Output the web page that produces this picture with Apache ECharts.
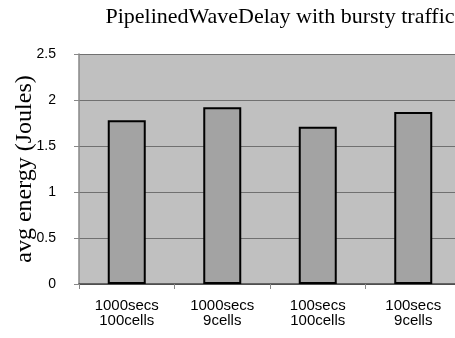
<!DOCTYPE html>
<html>
<head>
<meta charset="utf-8">
<script src="https://cdn.jsdelivr.net/npm/echarts@6/dist/echarts.min.js"></script>
<style>
html,body{margin:0;padding:0;background:#fff;}
#chart{width:455px;height:338px;}
</style>
</head>
<body>
<div id="chart"></div>
<script>
var categories = ["1000secs\n100cells", "1000secs\n9cells", "100secs\n100cells", "100secs\n9cells"];
var energyValues = [1.78, 1.92, 1.71, 1.87];
var titleText = "PipelinedWaveDelay with bursty traffic";
var yAxisName = "avg energy (Joules)";

var chart = echarts.init(document.getElementById('chart'), null, {renderer: 'canvas'});
chart.setOption({
  animation: false,
  title: {
    text: titleText,
    left: 275,
    textAlign: 'center',
    top: 1,
    textStyle: {fontFamily: 'Liberation Serif', fontSize: 22, fontWeight: 'normal', color: '#000'}
  },
  grid: {
    left: 79, top: 54, width: 382, height: 230,
    containLabel: false,
    outerBoundsMode: 'none',
    show: true, backgroundColor: '#c0c0c0', borderWidth: 0
  },
  xAxis: {
    type: 'category',
    data: categories,
    axisLine: {lineStyle: {color: '#444', width: 1.5}},
    axisTick: {show: true, length: 5, lineStyle: {color: '#888'}},
    axisLabel: {fontFamily: 'Liberation Sans', fontSize: 15, color: '#000', margin: 14, lineHeight: 15}
  },
  yAxis: {
    type: 'value',
    min: 0, max: 2.5, interval: 0.5,
    name: yAxisName,
    nameLocation: 'middle',
    nameRotate: 90,
    nameGap: 42,
    nameMoveOverlap: false,
    nameTextStyle: {fontFamily: 'Liberation Serif', fontSize: 24, color: '#000'},
    axisLine: {show: true, lineStyle: {color: '#888', width: 1.5}},
    axisTick: {show: true, length: 5, lineStyle: {color: '#888'}},
    axisLabel: {fontFamily: 'Liberation Sans', fontSize: 14, color: '#000', margin: 23},
    splitLine: {show: true, lineStyle: {color: '#707070', width: 1}}
  },
  series: [{
    type: 'bar',
    data: energyValues,
    barWidth: 38,
    itemStyle: {color: '#a3a3a3', borderColor: '#000', borderWidth: 2}
  }]
});
</script>
</body>
</html>
